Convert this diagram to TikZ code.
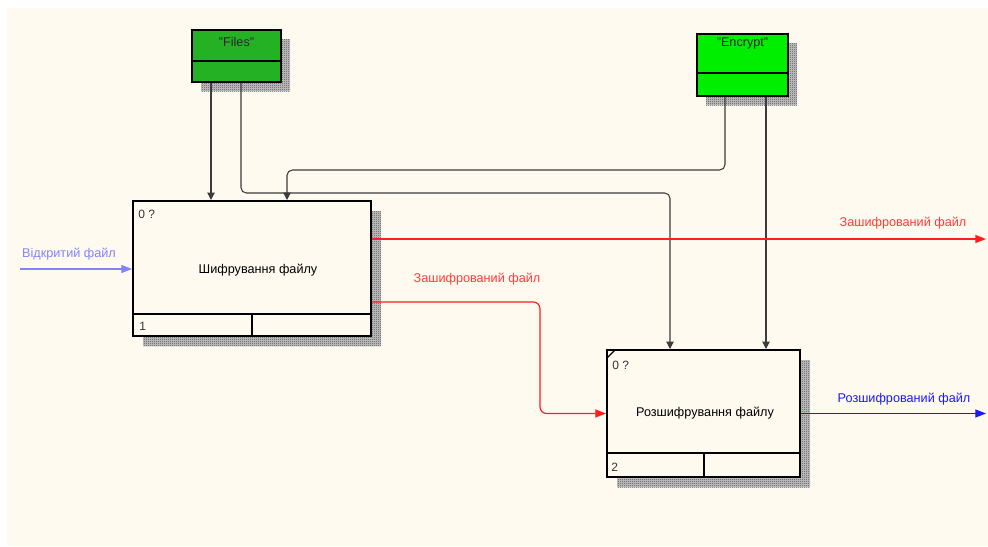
\documentclass[tikz,border=0pt]{standalone}
\usepackage{fontspec}
\setmainfont{Liberation Sans}
\usetikzlibrary{arrows.meta,patterns}

\definecolor{paper}{RGB}{255,250,240}
\definecolor{filesgreen}{RGB}{36,178,36}
\definecolor{encgreen}{RGB}{0,238,0}
\definecolor{linkred}{RGB}{255,30,30}
\definecolor{labelred}{RGB}{255,60,60}
\definecolor{inblue}{RGB}{130,130,255}
\definecolor{outblue}{RGB}{25,25,255}
\definecolor{wire}{RGB}{60,60,60}

% fine checker used for the drop shadows
\pgfdeclarepatternformonly{checker}{\pgfqpoint{0pt}{0pt}}{\pgfqpoint{1.5pt}{1.5pt}}{\pgfqpoint{1.5pt}{1.5pt}}{%
  \pgfpathrectangle{\pgfqpoint{0pt}{0pt}}{\pgfqpoint{0.75pt}{0.75pt}}%
  \pgfpathrectangle{\pgfqpoint{0.75pt}{0.75pt}}{\pgfqpoint{0.75pt}{0.75pt}}%
  \pgfusepath{fill}}

\tikzset{
  x=0.75pt, y=-0.75pt,
  every node/.style={font=\fontsize{9.5}{11}\selectfont, inner sep=0pt},
  actbox/.style={draw=black, line width=1.5pt, fill=paper, rectangle},
  tunnel/.style={draw=black, line width=1.5pt, rectangle},
  shade/.style={preaction={fill=gray!45}, pattern=checker, pattern color=black!70},
  wireline/.style={draw=wire, line width=0.8pt, rounded corners=4pt,
    -{Triangle[length=5.5pt,width=5.5pt]}},
  redline/.style={draw=linkred, line width=0.9pt, rounded corners=5pt,
    -{Triangle[length=8pt,width=6pt]}},
  inline/.style={draw=inblue, line width=0.9pt, -{Triangle[length=8pt,width=6pt]}},
  outline/.style={draw=outblue, line width=0.9pt, -{Triangle[length=8pt,width=6pt]}},
  small/.style={font=\fontsize{9}{10}\selectfont, text=black!80},
}

\begin{document}
\begin{tikzpicture}
% page and paper
\useasboundingbox (0,0) rectangle (988,546);
\fill[white] (0,0) rectangle (988,546);
\fill[paper] (7,8) rectangle (988,546);

% drop shadows
\fill[shade] (201,39) rectangle (290,91);
\fill[shade] (706,43) rectangle (797,105);
\fill[shade] (143,211) rectangle (381,346);
\fill[shade] (617,360) rectangle (810,487);

% tunnel boxes
\node[tunnel, fill=filesgreen, minimum width=66.75pt, minimum height=39pt] (files) at (236.5,56) {};
\draw[line width=1.5pt] (files.west |- 0,61) -- (files.east |- 0,61);
\node[text=black!85] (fileslbl) at (236.5,42) {"Files"};

\node[tunnel, fill=encgreen, minimum width=68.25pt, minimum height=46.5pt] (encrypt) at (742.5,65) {};
\draw[line width=1.5pt] (encrypt.west |- 0,73) -- (encrypt.east |- 0,73);
\node[text=black!85] (enclbl) at (742.5,43) {"Encrypt"};

% activity boxes
\node[actbox, minimum width=178.5pt, minimum height=101.25pt] (box1) at (252,268.5) {};
\draw[line width=1.5pt] (box1.west |- 0,314) -- (box1.east |- 0,314);
\draw[line width=1.5pt] (252,314) -- (252,0 |- box1.south);
\node (box1txt) at (258,270) {Шифрування файлу};
\node[small, anchor=west] (box1id) at (138,214.5) {0 ?};
\node[small, anchor=west] (box1num) at (139,326) {1};

\node[actbox, minimum width=144.75pt, minimum height=95.25pt] (box2) at (703.5,413.5) {};
\draw[line width=1.5pt] (box2.west |- 0,453) -- (box2.east |- 0,453);
\draw[line width=1.5pt] (704,453) -- (704,0 |- box2.south);
\draw[line width=1pt] (607,358) -- (615,350);
\node (box2txt) at (705,413) {Розшифрування файлу};
\node[small, anchor=west] (box2id) at (612,365) {0 ?};
\node[small, anchor=west] (box2num) at (611,467) {2};

% mechanism / control connectors
\draw[wireline] (211,0 |- files.south) -- (211,0 |- box1.north);
\draw[wireline] (241,0 |- files.south) -- (241,193) -- (670,193) -- (670,0 |- box2.north);
\draw[wireline] (725,0 |- encrypt.south) -- (725,170) -- (287,170) -- (287,0 |- box1.north);
\draw[wireline] (766,0 |- encrypt.south) -- (766,0 |- box2.north);

% inputs and outputs
\coordinate (src) at (20,269);
\draw[inline] (src) -- (box1.west |- src);
\node[text=inblue] (srclbl) at (69,254) {Відкритий файл};

\coordinate (encout) at (986,239);
\draw[redline] (box1.east |- encout) -- (encout);
\node[text=labelred] (encoutlbl) at (903,223) {Зашифрований файл};

\draw[redline] (box1.east |- 0,302) -- (540,302) -- (540,413.5) -- (box2.west);
\node[text=labelred] (linklbl) at (477,279) {Зашифрований файл};

\coordinate (decout) at (986,413.5);
\draw[outline] (box2.east) -- (decout);
\node[text=outblue] (decoutlbl) at (904,399) {Розшифрований файл};
\end{tikzpicture}
\end{document}
